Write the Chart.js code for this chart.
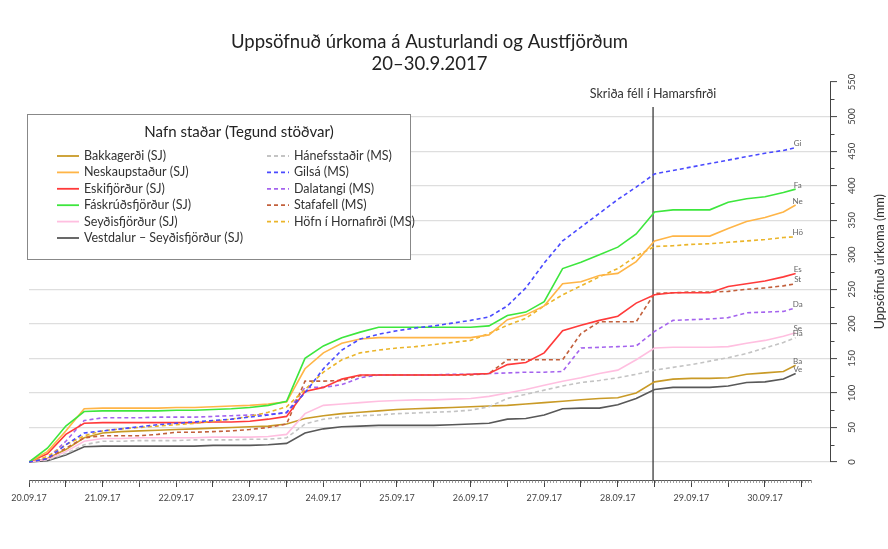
<!DOCTYPE html>
<html>
<head>
<meta charset="utf-8">
<script src="https://cdn.jsdelivr.net/npm/chart.js@4.4.0/dist/chart.umd.min.js"></script>
<style>
html, body { margin: 0; padding: 0; background: #fff; }
#wrap { width: 888px; height: 549px; }
</style>
</head>
<body>
<div id="wrap"><canvas id="urkoma" width="888" height="549"></canvas></div>
<script>
// Uppsöfnuð úrkoma 20.-30.9.2017 (mm), lesið af mynd, klst frá 20.09 kl. 00
var hours = [0, 6, 12, 18, 24, 30, 36, 42, 48, 54, 60, 66, 72, 78, 84, 90, 96, 102, 108, 114, 120,
    126, 132, 138, 144, 150, 156, 162, 168, 174, 180, 186, 192, 198, 204, 210, 216, 222, 228, 234, 240, 246, 250];

var bakkagerdi = [0, 5, 18, 35, 42, 44, 45, 46, 47, 48, 49, 50, 51, 52, 55, 63, 67, 70, 72, 74, 76,
    77, 78, 79, 80, 81, 82, 84, 86, 88, 90, 92, 93, 100, 116, 120, 121, 121, 122, 127, 129, 131, 140];
var neskaupstadur = [0, 15, 45, 77, 78, 78, 78, 78, 79, 79, 80, 81, 82, 84, 87, 135, 158, 172, 178, 180, 180,
    180, 180, 180, 180, 184, 206, 213, 226, 258, 261, 270, 273, 290, 320, 327, 327, 327, 338, 348, 354, 362, 372];
var eskifjordur = [0, 12, 40, 56, 57, 57, 57, 57, 57, 57, 58, 58, 59, 62, 66, 102, 108, 120, 126, 126, 126,
    126, 126, 126, 127, 128, 141, 144, 158, 190, 198, 205, 211, 230, 242, 245, 245, 245, 254, 258, 262, 268, 273];
var faskrudsfjordur = [0, 20, 52, 73, 74, 74, 74, 74, 75, 75, 76, 77, 79, 82, 88, 150, 168, 180, 188, 195, 195,
    195, 195, 195, 195, 197, 212, 217, 232, 280, 289, 300, 311, 330, 362, 365, 365, 365, 376, 381, 384, 390, 395];
var seydisfjordur = [0, 4, 15, 30, 34, 34, 35, 35, 35, 35, 36, 36, 36, 37, 40, 70, 82, 84, 86, 88, 89,
    90, 90, 91, 92, 95, 100, 105, 111, 117, 122, 128, 133, 148, 165, 166, 166, 166, 167, 172, 176, 182, 187];
var vestdalur = [0, 2, 10, 22, 23, 23, 23, 23, 23, 23, 24, 24, 24, 25, 27, 42, 48, 51, 52, 53, 53,
    53, 53, 54, 55, 56, 62, 63, 68, 77, 78, 78, 83, 92, 105, 108, 108, 108, 110, 115, 116, 120, 128];
var hanefsstadir = [0, 3, 12, 25, 30, 30, 31, 31, 31, 32, 32, 32, 33, 33, 35, 55, 62, 65, 67, 68, 70,
    71, 72, 73, 75, 80, 92, 98, 104, 110, 115, 118, 122, 127, 133, 137, 141, 146, 151, 157, 165, 173, 180];
var gilsa = [0, 5, 25, 42, 45, 48, 51, 54, 56, 58, 60, 62, 65, 68, 72, 100, 135, 162, 178, 185, 190,
    194, 197, 201, 205, 210, 226, 252, 288, 320, 340, 360, 380, 398, 417, 422, 427, 432, 437, 442, 447, 451, 455];
var dalatangi = [0, 5, 30, 60, 64, 64, 64, 65, 65, 65, 66, 67, 68, 69, 71, 108, 108, 112, 122, 126, 126,
    126, 126, 127, 127, 128, 129, 130, 130, 131, 165, 166, 167, 168, 189, 205, 206, 207, 209, 216, 217, 218, 223];
var stafafell = [0, 5, 20, 35, 38, 38, 38, 40, 43, 43, 44, 45, 47, 50, 55, 117, 117, 118, 125, 126, 126,
    126, 126, 126, 126, 128, 148, 148, 148, 148, 186, 203, 203, 203, 244, 245, 246, 246, 247, 250, 252, 255, 258];
var hofn = [0, 8, 25, 38, 45, 48, 50, 52, 54, 56, 59, 62, 66, 72, 80, 105, 130, 148, 158, 162, 165,
    167, 170, 173, 176, 186, 198, 208, 226, 242, 255, 268, 280, 298, 312, 313, 315, 316, 318, 320, 322, 325, 326];

var dayLabels = ['20.09.17', '21.09.17', '22.09.17', '23.09.17', '24.09.17', '25.09.17',
    '26.09.17', '27.09.17', '28.09.17', '29.09.17', '30.09.17'];
var yTicks = [0, 50, 100, 150, 200, 250, 300, 350, 400, 450, 500, 550];

var slideHour = 203.5;      // Skriða féll í Hamarsfirði
var axisEndHour = 255;

function pts(values) {
    return values.map(function(v, i) { return {x: hours[i], y: v}; });
}

function lina(name, short, values, color, dashed) {
    return {
        label: name,
        short: short,
        data: pts(values),
        borderColor: color,
        backgroundColor: color,
        borderWidth: 1.6,
        borderDash: dashed ? [4, 3] : [],
        pointRadius: 0,
        fill: false,
        tension: 0
    };
}

var datasets = [
    lina('Gilsá (MS)', 'Gi', gilsa, '#4a4aff', true),
    lina('Fáskrúðsfjörður (SJ)', 'Fa', faskrudsfjordur, '#3de63d', false),
    lina('Neskaupstaður (SJ)', 'Ne', neskaupstadur, '#ffb547', false),
    lina('Höfn í Hornafirði (MS)', 'Hö', hofn, '#ebb52a', true),
    lina('Eskifjörður (SJ)', 'Es', eskifjordur, '#ff3a3a', false),
    lina('Stafafell (MS)', 'St', stafafell, '#c2603c', true),
    lina('Dalatangi (MS)', 'Da', dalatangi, '#a463ee', true),
    lina('Seyðisfjörður (SJ)', 'Se', seydisfjordur, '#ffbfe0', false),
    lina('Hánefsstaðir (MS)', 'Há', hanefsstadir, '#c4c4c4', true),
    lina('Bakkagerði (SJ)', 'Ba', bakkagerdi, '#c99a26', false),
    lina('Vestdalur – Seyðisfjörður (SJ)', 'Ve', vestdalur, '#585858', false)
];

// röð í skýringum
var legendOrder = [
    ['Bakkagerði (SJ)', 'Neskaupstaður (SJ)', 'Eskifjörður (SJ)', 'Fáskrúðsfjörður (SJ)', 'Seyðisfjörður (SJ)', 'Vestdalur – Seyðisfjörður (SJ)'],
    ['Hánefsstaðir (MS)', 'Gilsá (MS)', 'Dalatangi (MS)', 'Stafafell (MS)', 'Höfn í Hornafirði (MS)']
];

datasets.push({
    label: 'skrida',
    skip: true,
    data: [{x: slideHour, y: -26}, {x: slideHour, y: 514}],
    borderColor: '#3a3a3a',
    borderWidth: 1.3,
    pointRadius: 0
});

var skreytingar = {
    id: 'skreytingar',
    afterDraw: function(chart) {
        var ctx = chart.ctx, xs = chart.scales.x, ys = chart.scales.y, ca = chart.chartArea;
        ctx.save();

        // x-ás: lína og klukkustundamerki
        var yb = ca.bottom;
        ctx.strokeStyle = '#555';
        ctx.lineWidth = 1;
        ctx.beginPath();
        ctx.moveTo(xs.getPixelForValue(0), yb + 0.5);
        ctx.lineTo(xs.getPixelForValue(axisEndHour), yb + 0.5);
        ctx.stroke();
        ctx.lineWidth = 0.7;
        ctx.strokeStyle = '#777';
        ctx.beginPath();
        for (var h = 0; h <= axisEndHour; h++) {
            var px = Math.round(xs.getPixelForValue(h)) + 0.5;
            ctx.moveTo(px, yb);
            ctx.lineTo(px, yb + 3);
        }
        ctx.stroke();

        // y-ás hægra megin
        var xr = ca.right + 0.5;
        ctx.strokeStyle = '#444';
        ctx.lineWidth = 1;
        ctx.beginPath();
        ctx.moveTo(xr, ys.getPixelForValue(0));
        ctx.lineTo(xr, ys.getPixelForValue(550));
        for (var v = 25; v < 550; v += 50) {
            var py = Math.round(ys.getPixelForValue(v)) + 0.5;
            ctx.moveTo(xr, py);
            ctx.lineTo(xr + 4, py);
        }
        ctx.stroke();

        ctx.fillStyle = '#444';
        ctx.font = '9.5px Lato';
        ctx.textAlign = 'center';
        ctx.textBaseline = 'middle';
        yTicks.forEach(function(t) {
            ctx.save();
            ctx.translate(ca.right + 22, ys.getPixelForValue(t));
            ctx.rotate(-Math.PI / 2);
            ctx.fillText(String(t), 0, 0);
            ctx.restore();
        });
        ctx.save();
        ctx.fillStyle = '#333';
        ctx.font = '12.5px Lato';
        ctx.translate(ca.right + 50, ys.getPixelForValue(290));
        ctx.rotate(-Math.PI / 2);
        ctx.fillText('Uppsöfnuð úrkoma (mm)', 0, 0);
        ctx.restore();

        // texti við skriðulínu
        ctx.fillStyle = '#333';
        ctx.font = '12.5px Lato';
        ctx.fillText('Skriða féll í Hamarsfirði', xs.getPixelForValue(slideHour), ys.getPixelForValue(533));

        // skammstafanir við enda lína
        ctx.fillStyle = '#666';
        ctx.font = '8px Lato';
        chart.data.datasets.forEach(function(ds) {
            if (ds.skip) return;
            var last = ds.data[ds.data.length - 1];
            ctx.fillText(ds.short, xs.getPixelForValue(last.x) + 2, ys.getPixelForValue(last.y) - 4);
        });

        // skýringar
        var bx = 27, by = 114, bw = 383, bh = 145;
        ctx.fillStyle = '#fff';
        ctx.fillRect(bx, by, bw, bh);
        ctx.strokeStyle = '#888';
        ctx.lineWidth = 1;
        ctx.strokeRect(bx + 0.5, by + 0.5, bw, bh);
        ctx.fillStyle = '#222';
        ctx.font = '15px Lato';
        ctx.fillText('Nafn staðar (Tegund stöðvar)', 239, 132);
        ctx.font = '12.5px Lato';
        ctx.textAlign = 'left';
        var colX = [57, 267];
        legendOrder.forEach(function(names, c) {
            names.forEach(function(name, i) {
                var ds = chart.data.datasets.find(function(d) { return d.label === name; });
                var ly = 156 + i * 16.4;
                ctx.strokeStyle = ds.borderColor;
                ctx.lineWidth = 1.8;
                ctx.setLineDash(ds.borderDash);
                ctx.beginPath();
                ctx.moveTo(colX[c], ly);
                ctx.lineTo(colX[c] + 22, ly);
                ctx.stroke();
                ctx.setLineDash([]);
                ctx.fillStyle = '#333';
                ctx.fillText(name, colX[c] + 27, ly);
            });
        });
        ctx.restore();
    }
};

var config = {
    type: 'line',
    data: { datasets: datasets },
    options: {
        responsive: false,
        animation: false,
        layout: { padding: { left: 29, right: 0, top: 0, bottom: 0 } },
        plugins: {
            legend: { display: false },
            tooltip: { enabled: false },
            title: {
                display: true,
                fullSize: false,
                text: ['Uppsöfnuð úrkoma á Austurlandi og Austfjörðum', '20–30.9.2017'],
                color: '#222',
                font: { family: 'Lato', size: 18.5, weight: 'normal', lineHeight: 1.19 },
                padding: { top: 31, bottom: 7 }
            }
        },
        scales: {
            x: {
                type: 'linear',
                min: 0,
                max: 261.2,
                afterBuildTicks: function(scale) {
                    var t = [];
                    for (var h = 0; h <= 252; h += 12) t.push({ value: h });
                    scale.ticks = t;
                },
                afterFit: function(scale) { scale.height = 69; },
                border: { display: false },
                grid: { drawOnChartArea: false, drawTicks: true, tickLength: 7, tickColor: '#444' },
                ticks: {
                    autoSkip: false,
                    maxRotation: 0,
                    padding: 6,
                    color: '#444',
                    font: { family: 'Lato', size: 9 },
                    callback: function(value) {
                        return value % 24 === 0 ? dayLabels[value / 24] : '';
                    }
                }
            },
            y: {
                position: 'right',
                min: -26.05,
                max: 550,
                afterBuildTicks: function(scale) {
                    scale.ticks = yTicks.map(function(v) { return { value: v }; });
                },
                afterFit: function(scale) { scale.width = 58; },
                border: { display: false },
                grid: {
                    color: function(c) { return c.tick && c.tick.value === 550 ? 'rgba(0,0,0,0)' : '#dedede'; },
                    lineWidth: 1.2,
                    tickLength: 7,
                    tickColor: '#444',
                    tickWidth: 1
                },
                ticks: { display: false }
            }
        }
    },
    plugins: [skreytingar]
};

var graf = new Chart(document.getElementById('urkoma'), config);
</script>
</body>
</html>
